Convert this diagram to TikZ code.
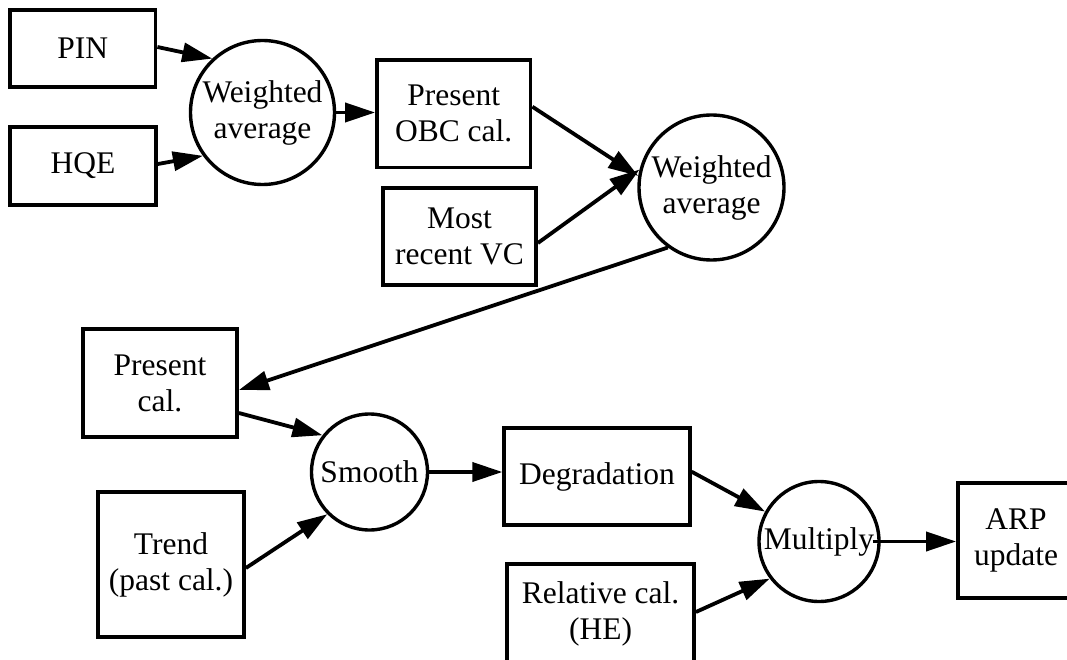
\documentclass[tikz,border=0pt]{standalone}
\usepackage{fontspec}
\setmainfont{Liberation Serif}
\usetikzlibrary{arrows.meta}
\begin{document}
\begin{tikzpicture}[x=1pt,y=-1pt,
  every node/.style={font=\fontsize{31.5}{36}\selectfont, align=center, inner sep=0pt},
  box/.style={draw, rectangle, line width=3.8pt},
  op/.style={draw, circle, line width=3.4pt},
  flow/.style={line width=3.8pt, -{Triangle[length=30pt,width=19pt]}}
]
\useasboundingbox (0,0) rectangle (1067,660);
\fill[white] (0,0) rectangle (1067,660);
\clip (0,0) rectangle (1067,660);

% first averaging stage
\node[box, minimum width=145.5pt, minimum height=77pt] (pin) at (82.75,48.5) {PIN};
\node[box, minimum width=146pt, minimum height=78pt] (hqe) at (83,166) {HQE};
\node[op, minimum size=144pt] (c1) at (262.5,112.5) {Weighted\\average};
\node[box, minimum width=153.5pt, minimum height=107.5pt] (obc) at (453.75,113.75) {Present\\OBC cal.};

% second averaging stage
\node[box, minimum width=153pt, minimum height=97pt] (vc) at (459.5,236.5) {Most\\recent VC};
\node[op, minimum size=145pt] (c2) at (711.5,187.5) {Weighted\\average};

% smoothing
\node[box, minimum width=154pt, minimum height=108pt] (pres) at (160,383) {Present\\cal.};
\node[op, minimum size=116pt] (smooth) at (369.5,472) {Smooth};
\node[box, minimum width=146pt, minimum height=145pt] (trend) at (171,564.5) {Trend\\(past cal.)};

% final update
\node[box, minimum width=185.5pt, minimum height=97pt] (deg) at (597,476.5) {Degradation};
\node[box, minimum width=187pt, minimum height=100pt] (rel) at (600.5,614) {Relative cal.\\(HE)};
\node[op, minimum size=120pt] (mult) at (819,541.5) {Multiply};
\node[box, minimum width=116pt, minimum height=115pt] (arp) at (1016,540.5) {ARP\\update};

% connectors
\draw[flow] ([yshift=1.5pt]pin.east) -- (c1.133);
\draw[flow] ([yshift=2pt]hqe.east) -- (c1.216);
\draw[flow] ([xshift=-3pt]c1.east) -- (c1.east -| obc.west);
\draw[flow] ([yshift=7pt]obc.east) -- (c2.171);
\draw[flow] ([yshift=-6.5pt]vc.east) -- (c2.166);
\draw[flow] (c2.234) -- ([yshift=-7pt]pres.east);
\draw[flow] ([yshift=-30pt]pres.east) -- (smooth.142);
\draw[flow] ([yshift=-3.5pt]trend.east) -- (smooth.225);
\draw[flow] (smooth.east) -- (smooth.east -| deg.west);
\draw[flow] ([yshift=4.8pt]deg.east) -- (mult.151);
\draw[flow] ([yshift=2pt]rel.east) -- (mult.217);
\draw[flow] ([xshift=-8pt]mult.east) -- (mult.east -| arp.west);
\end{tikzpicture}
\end{document}
